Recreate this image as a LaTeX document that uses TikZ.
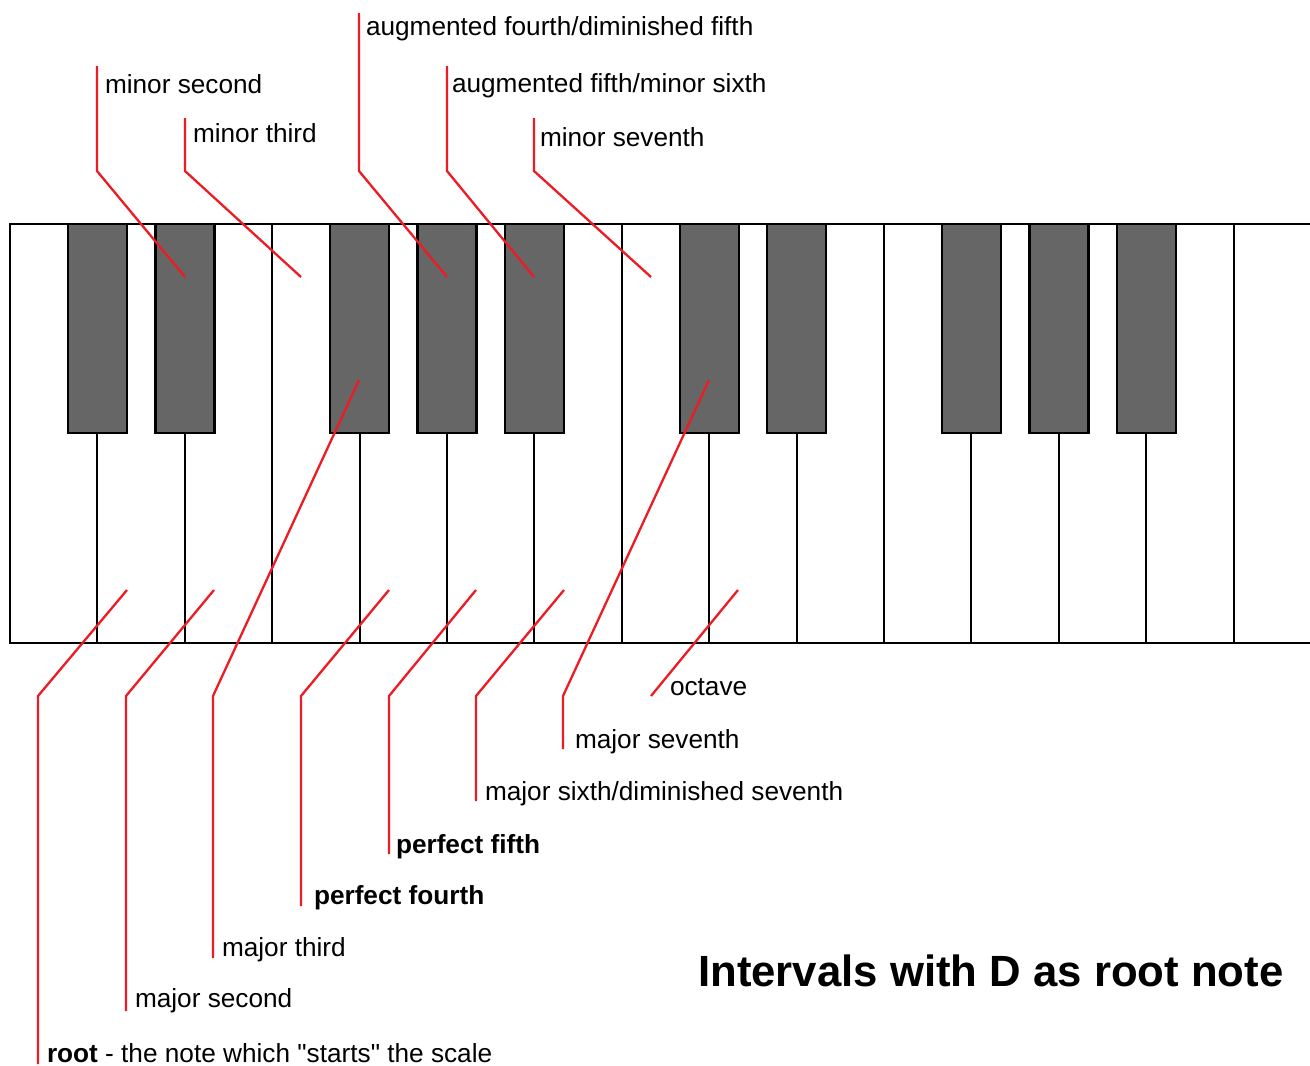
\documentclass[tikz,border=0pt]{standalone}
\usepackage{fontspec}
\setmainfont{Liberation Sans}[Ligatures=TeXOff]
\definecolor{keygray}{RGB}{102,102,102}
\definecolor{linered}{RGB}{237,28,36}
\tikzset{
  keyline/.style={draw=black, line width=2pt},
  blackkey/.style={draw=black, fill=keygray, line width=2.4pt},
  leader/.style={draw=linered, line width=2.3pt},
  lbl/.style={anchor=base west, inner sep=0pt, outer sep=0pt, font=\fontsize{26.2}{31}\selectfont},
  blbl/.style={lbl, font=\fontsize{26.2}{31}\selectfont\bfseries},
  titlelbl/.style={anchor=base west, inner sep=0pt, font=\fontsize{43.7}{52}\selectfont\bfseries}
}
\begin{document}
\begin{tikzpicture}[x=1pt, y=-1pt]
\useasboundingbox (0,0) rectangle (1310,1066);
\fill[white] (0,0) rectangle (1310,1066);
% keyboard outline
\draw[keyline] (1310,224) -- (10,224) -- (10,643) -- (1310,643);
% white key separators
\foreach \x in {97.4,184.8,272.2,359.6,447,534.4,621.8,709.2,796.6,884,971.4,1058.8,1146.2,1233.6}
  \draw[keyline] (\x,224) -- (\x,643);
% black keys
\foreach \x in {97.4,184.8,359.6,447,534.4,709.2,796.6,971.4,1058.8,1146.2}
  \draw[blackkey] (\x-29.5,224) rectangle (\x+29.5,433);

% key points
\coordinate (kRoot) at (127,590);
\coordinate (kMajSec) at (214,590);
\coordinate (kMajThi) at (359,380);
\coordinate (kPerFou) at (389,590);
\coordinate (kPerFif) at (476,590);
\coordinate (kMajSix) at (564,590);
\coordinate (kMajSev) at (709,380);
\coordinate (kOct) at (738,590);
\coordinate (kMinSec) at (185,277);
\coordinate (kMinThi) at (301,277);
\coordinate (kAugFou) at (447,277);
\coordinate (kAugFif) at (534,277);
\coordinate (kMinSev) at (651,277);

% bend points
\coordinate (bRoot) at (38,696);
\coordinate (bMajSec) at (126,696);
\coordinate (bMajThi) at (213,696);
\coordinate (bPerFou) at (301,696);
\coordinate (bPerFif) at (389,696);
\coordinate (bMajSix) at (476,696);
\coordinate (bMajSev) at (563,696);
\coordinate (bOct) at (651,696);
\coordinate (bMinSec) at (97,171);
\coordinate (bMinThi) at (185,171);
\coordinate (bAugFou) at (359,171);
\coordinate (bAugFif) at (447,171);
\coordinate (bMinSev) at (534,171);

% line ends
\coordinate (eRoot) at (38,1064);
\coordinate (eMajSec) at (126,1011);
\coordinate (eMajThi) at (213,958);
\coordinate (ePerFou) at (301,906);
\coordinate (ePerFif) at (389,854);
\coordinate (eMajSix) at (476,801);
\coordinate (eMajSev) at (563,749);
\coordinate (eMinSec) at (97,66);
\coordinate (eMinThi) at (185,118);
\coordinate (eAugFou) at (359,13);
\coordinate (eAugFif) at (447,66);
\coordinate (eMinSev) at (534,118);

% labels
\node[lbl] (tMinSec) at (105,93) {minor second};
\node[lbl] (tMinThi) at (193,142) {minor third};
\node[lbl] (tAugFou) at (366,35) {augmented fourth/diminished fifth};
\node[lbl] (tAugFif) at (452,92) {augmented fifth/minor sixth};
\node[lbl] (tMinSev) at (540,146) {minor seventh};
\node[lbl] (tOct) at (670,695) {octave};
\node[lbl] (tMajSev) at (575,748) {major seventh};
\node[lbl] (tMajSix) at (485,800) {major sixth/diminished seventh};
\node[blbl] (tPerFif) at (396,853) {perfect fifth};
\node[blbl] (tPerFou) at (314,904) {perfect fourth};
\node[lbl] (tMajThi) at (222,956) {major third};
\node[lbl] (tMajSec) at (135,1007) {major second};
\node[lbl] (tRoot) at (47,1062) {\textbf{root} - the note which "starts" the scale};
\node[titlelbl] (title) at (698,986) {Intervals with D as root note};

% leader lines
\draw[leader] (kRoot) -- (bRoot) -- (eRoot);
\draw[leader] (kMajSec) -- (bMajSec) -- (eMajSec);
\draw[leader] (kMajThi) -- (bMajThi) -- (eMajThi);
\draw[leader] (kPerFou) -- (bPerFou) -- (ePerFou);
\draw[leader] (kPerFif) -- (bPerFif) -- (ePerFif);
\draw[leader] (kMajSix) -- (bMajSix) -- (eMajSix);
\draw[leader] (kMajSev) -- (bMajSev) -- (eMajSev);
\draw[leader] (kOct) -- (bOct);
\draw[leader] (kMinSec) -- (bMinSec) -- (eMinSec);
\draw[leader] (kMinThi) -- (bMinThi) -- (eMinThi);
\draw[leader] (kAugFou) -- (bAugFou) -- (eAugFou);
\draw[leader] (kAugFif) -- (bAugFif) -- (eAugFif);
\draw[leader] (kMinSev) -- (bMinSev) -- (eMinSev);
\end{tikzpicture}
\end{document}
